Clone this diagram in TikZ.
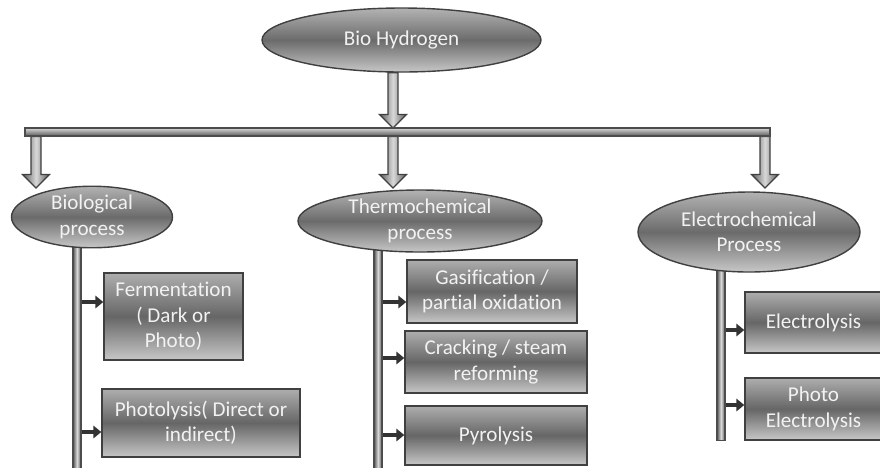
\documentclass[tikz,border=0pt]{standalone}
\usepackage{fontspec}
\setmainfont{Carlito}[Ligatures=NoCommon]
\usetikzlibrary{arrows.meta,calc,positioning,backgrounds}
\usetikzlibrary{shapes,shapes.geometric}
\tikzset{
    proc/.style={
        draw=black!75,
        line width=0.8pt,
        ellipse,
        inner sep=0pt,
        align=center,
        text=black!5,
        font=\fontsize{12}{14.5}\selectfont,
        top color=black!30, bottom color=black!22, middle color=black!58,
    },
    method/.style={
        draw=black!75,
        line width=0.8pt,
        rectangle,
        inner sep=0pt,
        align=center,
        text=black!5,
        font=\fontsize{12}{14.5}\selectfont,
        top color=black!32, bottom color=black!22, middle color=black!60,
    },
    hbar/.style={
        draw=black!70, line width=0.6pt, inner sep=0pt,
        top color=black!15, bottom color=black!65,
    },
    vbar/.style={
        draw=black!70, line width=0.6pt, inner sep=0pt, minimum width=0.16cm,
        left color=black!65, right color=black!65, middle color=black!15,
    },
    bigarrow/.style={
        draw=black!75, line width=0.7pt,
        left color=black!65, right color=black!65, middle color=black!15,
    },
    tick/.style={
        draw=black!80, line width=2pt,
        -{Triangle[length=4.5pt,width=7pt]},
    },
}
% hollow down arrow from #1 to #2
\newcommand{\blockarrow}[2]{%
  \draw[bigarrow] ($(#1)+(-0.1,0)$) -- ($(#2)+(-0.1,0.27)$) -- ($(#2)+(-0.27,0.27)$)
    -- (#2) -- ($(#2)+(0.27,0.27)$) -- ($(#2)+(0.1,0.27)$) -- ($(#1)+(0.1,0)$) -- cycle;}

\begin{document}
\begin{tikzpicture}
  \useasboundingbox (0,0) rectangle (17.6,-9.34);
  \clip (0,0) rectangle (17.6,-9.34);

  \node[proc, minimum width=5.58cm, minimum height=1.28cm] (bio) at (8.03,-0.80) {Bio Hydrogen};
  \node[hbar, minimum width=14.9cm, minimum height=0.16cm] (bar) at (7.95,-2.64) {};

  \node[proc, minimum width=3.22cm, minimum height=1.22cm] (biol) at (1.84,-4.34) {Biological\\process};
  \node[proc, minimum width=4.88cm, minimum height=1.24cm] (thermo) at (8.40,-4.42) {Thermochemical\\process};
  \node[proc, minimum width=4.44cm, minimum height=1.60cm] (electro) at (14.98,-4.64) {Electrochemical\\Process};

  % biological routes
  \node[method, minimum width=2.78cm, minimum height=1.74cm] (ferm) at (3.47,-6.33) {Fermentation\\( Dark or\\Photo)};
  \node[method, minimum width=3.96cm, minimum height=1.36cm] (photol) at (4.02,-8.46) {Photolysis( Direct or\\indirect)};

  % thermochemical routes
  \node[method, minimum width=3.40cm, minimum height=1.26cm] (gasif) at (9.84,-5.83) {Gasification /\\partial oxidation};
  \node[method, minimum width=3.64cm, minimum height=1.24cm] (crack) at (9.92,-7.24) {Cracking / steam\\reforming};
  \node[method, minimum width=3.64cm, minimum height=1.18cm] (pyro) at (9.92,-8.71) {Pyrolysis};

  % electrochemical routes
  \node[method, minimum width=2.74cm, minimum height=1.22cm] (elys) at (16.27,-6.45) {Electrolysis};
  \node[method, minimum width=2.74cm, minimum height=1.24cm] (pelys) at (16.27,-8.18) {Photo\\Electrolysis};

  \coordinate (t0) at (7.86,-2.56);
  \coordinate (a1) at (0.72,-3.76);
  \coordinate (a2) at (7.86,-3.76);
  \coordinate (a3) at (15.30,-3.76);
  \coordinate (b1) at (bar.south -| a1);
  \coordinate (b2) at (bar.south -| a2);
  \coordinate (b3) at (bar.south -| a3);
  \coordinate (s0) at (bio.south -| t0);

  \begin{pgfonlayer}{background}
    \node[vbar, minimum height=5.2cm, anchor=north] (bbar) at (1.54,-4.34) {};
    \node[vbar, minimum height=5.1cm, anchor=north] (tbar) at (7.56,-4.42) {};
    \node[vbar, minimum height=4.16cm, anchor=north] (ebar) at (14.42,-4.64) {};

    \blockarrow{s0}{t0}
    \blockarrow{b1}{a1}
    \blockarrow{b2}{a2}
    \blockarrow{b3}{a3}
  \end{pgfonlayer}

  \draw[tick] (bbar.east |- 0,-6.04) -- (ferm.west |- 0,-6.04);
  \draw[tick] (bbar.east |- 0,-8.64) -- (photol.west |- 0,-8.64);
  \draw[tick] (tbar.east |- 0,-6.04) -- (gasif.west |- 0,-6.04);
  \draw[tick] (tbar.east |- 0,-7.16) -- (crack.west |- 0,-7.16);
  \draw[tick] (tbar.east |- 0,-8.70) -- (pyro.west |- 0,-8.70);
  \draw[tick] (ebar.east |- 0,-6.60) -- (elys.west |- 0,-6.60);
  \draw[tick] (ebar.east |- 0,-8.10) -- (pelys.west |- 0,-8.10);
\end{tikzpicture}
\end{document}
